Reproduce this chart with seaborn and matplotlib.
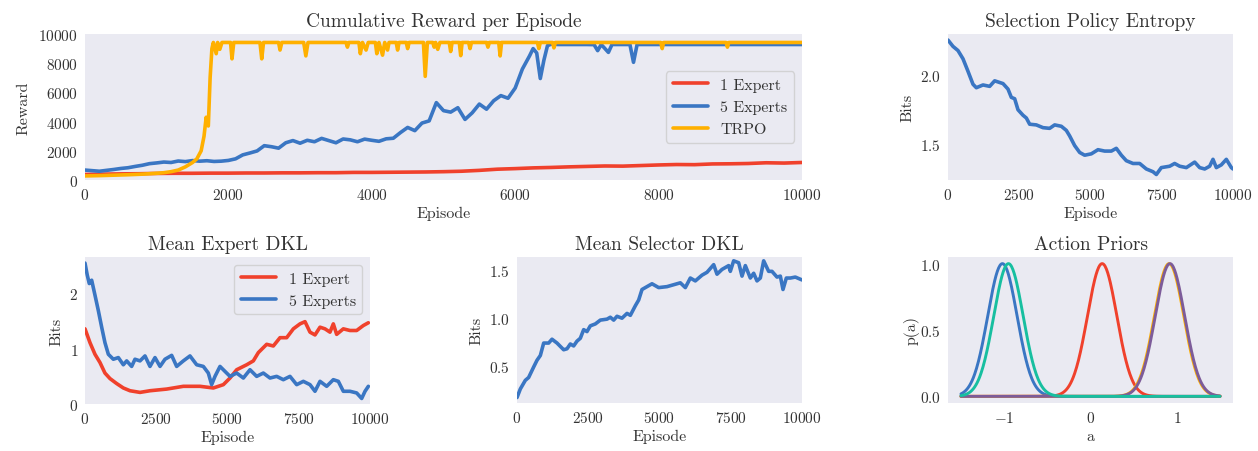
import numpy as np
import pandas as pd
import matplotlib
matplotlib.use("Agg")
import matplotlib.pyplot as plt
import seaborn as sns

# ---------------- data ----------------
# Cumulative reward per episode
rew_1exp_ep = [0, 250, 500, 750, 1000, 1250, 1500, 1750, 2000, 2250, 2500, 2750, 3000, 3250, 3500,
               3750, 4000, 4250, 4500, 4750, 5000, 5250, 5500, 5750, 6000, 6250, 6500, 6750, 7000,
               7250, 7500, 7750, 8000, 8250, 8500, 8750, 9000, 9250, 9500, 9750, 10000]
rew_1exp = [380, 400, 420, 430, 450, 460, 460, 470, 470, 480, 480, 490, 490, 500, 500,
            520, 520, 530, 540, 550, 570, 600, 660, 740, 780, 830, 860, 900, 930,
            960, 950, 990, 1030, 1060, 1050, 1100, 1110, 1130, 1180, 1160, 1200]

rew_5exp_ep = [0, 100, 200, 300, 400, 500, 600, 700, 800, 900, 1000, 1100, 1200, 1300, 1400, 1500,
               1600, 1700, 1800, 1900, 2000, 2100, 2200, 2300, 2400, 2500, 2600, 2700, 2800, 2900,
               3000, 3100, 3200, 3300, 3400, 3500, 3600, 3700, 3800, 3900, 4000, 4100, 4200, 4300,
               4400, 4500, 4600, 4700, 4800, 4900, 5000, 5100, 5200, 5300, 5400, 5500, 5600, 5700,
               5800, 5900, 6000, 6100, 6200, 6250, 6300, 6350, 6400, 6450, 6500, 6600, 7000, 7100,
               7150, 7200, 7300, 7350, 7600, 7650, 7700, 10000]
rew_5exp = [680, 640, 600, 660, 720, 790, 840, 930, 1010, 1120, 1170, 1230, 1200, 1300, 1260, 1330,
            1290, 1320, 1270, 1290, 1340, 1450, 1720, 1850, 1990, 2350, 2280, 2180, 2550, 2700,
            2520, 2720, 2620, 2850, 2700, 2550, 2810, 2750, 2620, 2800, 2720, 2650, 2820, 2860,
            3250, 3600, 3380, 3900, 4050, 5300, 4750, 4650, 4950, 4150, 4600, 5200, 4850, 5430,
            5780, 5600, 6300, 7600, 8500, 9000, 8700, 6950, 8200, 9200, 9300, 9280, 9280, 9270,
            8860, 9280, 8740, 9280, 9280, 8060, 9280, 9280]

rew_trpo_ep = [0, 200, 400, 600, 800, 1000, 1100, 1200, 1300, 1400, 1500, 1560, 1620, 1660, 1690,
               1705, 1720, 1745, 1770, 1790, 1830, 1850, 1880, 1910, 2030, 2050, 2075, 2440, 2465,
               2490, 2700, 2720, 2745, 3050, 3080, 3110, 3640, 3660, 3680, 3820, 3840, 3870, 3920,
               3950, 4050, 4070, 4100, 4150, 4180, 4220, 4240, 4340, 4360, 4380, 4480, 4500, 4520,
               4720, 4745, 4775, 4850, 4870, 4890, 4920, 4950, 5080, 5100, 5120, 5220, 5240, 5260,
               5350, 5370, 5390, 5600, 5620, 5640, 5770, 5790, 5810, 6310, 6330, 6350, 6520, 6540,
               6560, 8030, 8050, 8070, 8940, 8960, 8980, 10000]
rew_trpo = [280, 300, 330, 360, 400, 460, 500, 570, 680, 900, 1200, 1450, 2000, 3000, 4300,
            3900, 3700, 7000, 9000, 9420, 8650, 9420, 8950, 9420, 9420, 8300, 9420, 9420, 8300,
            9420, 9420, 8900, 9420, 9420, 8500, 9420, 9420, 9100, 9420, 9420, 8650, 9420, 8900,
            9420, 9420, 8650, 9420, 8550, 9420, 8900, 9420, 9420, 8900, 9420, 9420, 9000, 9420,
            9420, 7100, 9420, 9420, 9100, 9420, 8950, 9420, 9420, 8800, 9420, 9420, 8520, 9420,
            9420, 9000, 9420, 9420, 9100, 9420, 9420, 8500, 9420, 9420, 9000, 9420, 9420, 9050,
            9420, 9420, 9000, 9420, 9420, 9100, 9420, 9420]

# Selection policy entropy
ent_ep = [0, 175, 350, 526, 700, 877, 994, 1228, 1462, 1637, 1930, 2105, 2222, 2339, 2456, 2632,
          2749, 2865, 3099, 3333, 3567, 3743, 3977, 4152, 4269, 4444, 4620, 4795, 5029, 5263, 5497,
          5731, 5906, 6082, 6257, 6491, 6725, 6959, 7193, 7310, 7485, 7778, 7953, 8129, 8363, 8655,
          8830, 9006, 9181, 9298, 9415, 9591, 9766, 9942, 10000]
ent_bits = [2.256, 2.21, 2.18, 2.12, 2.03, 1.935, 1.91, 1.93, 1.92, 1.96, 1.94, 1.90, 1.84, 1.83,
            1.75, 1.71, 1.69, 1.645, 1.64, 1.62, 1.615, 1.64, 1.63, 1.60, 1.56, 1.49, 1.44, 1.42,
            1.43, 1.46, 1.45, 1.45, 1.47, 1.42, 1.38, 1.36, 1.36, 1.32, 1.30, 1.28, 1.33, 1.34,
            1.36, 1.34, 1.33, 1.37, 1.33, 1.32, 1.34, 1.39, 1.33, 1.35, 1.39, 1.33, 1.32]

# Mean expert DKL
edkl_1_ep = [0, 175, 350, 526, 700, 877, 1111, 1345, 1579, 1930, 2280, 2865, 3450, 4035, 4503, 4854,
             5088, 5322, 5673, 5906, 6082, 6374, 6608, 6842, 7076, 7310, 7544, 7719, 7895, 8070,
             8246, 8421, 8596, 8713, 8830, 9064, 9298, 9532, 9766, 9942]
edkl_1 = [1.36, 1.11, 0.90, 0.75, 0.56, 0.46, 0.37, 0.29, 0.24, 0.21, 0.24, 0.27, 0.32, 0.32, 0.29,
          0.35, 0.47, 0.62, 0.71, 0.78, 0.93, 1.08, 1.05, 1.20, 1.20, 1.36, 1.45, 1.49, 1.30, 1.25,
          1.39, 1.36, 1.30, 1.45, 1.26, 1.36, 1.33, 1.33, 1.42, 1.47]
edkl_5_ep = [0, 80, 150, 234, 350, 468, 585, 700, 819, 994, 1170, 1345, 1462, 1637, 1754, 1930,
             2105, 2280, 2456, 2632, 2807, 3041, 3216, 3450, 3684, 3918, 4152, 4327, 4444, 4561,
             4737, 4912, 5088, 5322, 5556, 5789, 6023, 6257, 6491, 6725, 6959, 7193, 7427, 7661,
             7895, 8070, 8246, 8480, 8713, 8889, 9064, 9298, 9532, 9708, 9825, 9942]
edkl_5 = [2.55, 2.33, 2.18, 2.24, 1.97, 1.69, 1.39, 1.11, 0.90, 0.81, 0.84, 0.71, 0.78, 0.68, 0.81,
          0.78, 0.87, 0.68, 0.84, 0.68, 0.81, 0.88, 0.68, 0.78, 0.87, 0.71, 0.68, 0.56, 0.35, 0.50,
          0.68, 0.59, 0.50, 0.56, 0.47, 0.62, 0.50, 0.56, 0.47, 0.50, 0.44, 0.50, 0.35, 0.41, 0.35,
          0.23, 0.41, 0.32, 0.44, 0.41, 0.23, 0.23, 0.20, 0.10, 0.23, 0.32]

# Mean selector DKL
sdkl_ep = [0, 117, 292, 409, 585, 702, 819, 936, 1111, 1228, 1404, 1637, 1754, 1871, 1988, 2105,
           2222, 2339, 2456, 2573, 2749, 2924, 3158, 3275, 3392, 3509, 3684, 3860, 3977, 4152, 4269,
           4386, 4561, 4737, 4971, 5263, 5497, 5731, 5906, 6082, 6257, 6491, 6667, 6901, 7018, 7193,
           7427, 7485, 7602, 7778, 7895, 8012, 8187, 8304, 8421, 8538, 8655, 8830, 8947, 9123, 9240,
           9333, 9450, 9591, 9766, 10000]
sdkl_bits = [0.17, 0.26, 0.35, 0.38, 0.49, 0.56, 0.61, 0.74, 0.74, 0.78, 0.74, 0.67, 0.68, 0.73,
             0.71, 0.76, 0.79, 0.88, 0.86, 0.92, 0.94, 0.98, 0.99, 1.01, 0.98, 1.02, 1.00, 1.05,
             1.03, 1.13, 1.19, 1.30, 1.33, 1.36, 1.32, 1.33, 1.35, 1.37, 1.32, 1.42, 1.39, 1.45,
             1.48, 1.56, 1.46, 1.51, 1.55, 1.49, 1.60, 1.58, 1.44, 1.55, 1.42, 1.47, 1.39, 1.42,
             1.60, 1.49, 1.49, 1.43, 1.44, 1.30, 1.42, 1.42, 1.43, 1.40]

# Action priors (Gaussian prior means / widths, peak-normalised)
prior_mu = [-1.02, 0.135, 0.91, 0.92, -0.95]
prior_sigma = [0.17, 0.17, 0.17, 0.17, 0.17]
prior_colors = ["#3a76c3", "#f0412c", "#ffb000", "#7d5c9a", "#17bfa0"]

C_RED = "#f0412c"
C_BLUE = "#3a76c3"
C_ORANGE = "#ffb000"

# ---------------- style ----------------
sns.set_theme(style="dark")
plt.rcParams.update({
    "font.family": "serif",
    "font.serif": ["cmr10", "DejaVu Serif"],
    "mathtext.fontset": "cm",
    "axes.formatter.use_mathtext": True,
    "axes.unicode_minus": True,
    "axes.facecolor": "#eaeaf2",
    "xtick.labelsize": 11,
    "ytick.labelsize": 11,
    "axes.labelsize": 11.5,
    "axes.titlesize": 14,
    "legend.fontsize": 11.5,
    "axes.labelcolor": "#333333",
    "text.color": "#333333",
    "xtick.color": "#333333",
    "ytick.color": "#333333",
})

W, H = 1258, 452
fig = plt.figure(figsize=(W / 100, H / 100), dpi=100)


def ax_px(x0, y0, x1, y1):
    return fig.add_axes([x0 / W, 1 - y1 / H, (x1 - x0) / W, (y1 - y0) / H])


ax_rew = ax_px(85, 35, 802, 181)
ax_ent = ax_px(948, 35, 1233, 181)
ax_edkl = ax_px(85, 258, 370, 405)
ax_sdkl = ax_px(517, 258, 802, 404)
ax_prior = ax_px(948, 258, 1233, 404)

LW = 2.6

# Reward
sns.lineplot(x=rew_1exp_ep, y=rew_1exp, ax=ax_rew, color=C_RED, lw=LW, label="1 Expert",
             estimator=None, sort=False)
sns.lineplot(x=rew_5exp_ep, y=rew_5exp, ax=ax_rew, color=C_BLUE, lw=LW, label="5 Experts",
             estimator=None, sort=False)
sns.lineplot(x=rew_trpo_ep, y=rew_trpo, ax=ax_rew, color=C_ORANGE, lw=LW, label="TRPO",
             estimator=None, sort=False)
ax_rew.set_xlim(0, 10000)
ax_rew.set_ylim(0, 10000)
ax_rew.set_xticks([0, 2000, 4000, 6000, 8000, 10000])
ax_rew.set_yticks([0, 2000, 4000, 6000, 8000, 10000])
ax_rew.set_title("Cumulative Reward per Episode")
ax_rew.set_xlabel("Episode", labelpad=3)
ax_rew.set_ylabel("Reward", labelpad=6)
ax_rew.legend(loc="center right", handlelength=2.2)

# Entropy
sns.lineplot(x=ent_ep, y=ent_bits, ax=ax_ent, color=C_BLUE, lw=LW, estimator=None, sort=False)
ax_ent.set_xlim(0, 10000)
ax_ent.set_ylim(1.24, 2.30)
ax_ent.set_xticks([0, 2500, 5000, 7500, 10000])
ax_ent.set_yticks([1.5, 2.0])
ax_ent.set_title("Selection Policy Entropy")
ax_ent.set_xlabel("Episode", labelpad=3)
ax_ent.set_ylabel("Bits")

# Expert DKL
sns.lineplot(x=edkl_1_ep, y=edkl_1, ax=ax_edkl, color=C_RED, lw=LW, label="1 Expert",
             estimator=None, sort=False)
sns.lineplot(x=edkl_5_ep, y=edkl_5, ax=ax_edkl, color=C_BLUE, lw=LW, label="5 Experts",
             estimator=None, sort=False)
ax_edkl.set_xlim(0, 10000)
ax_edkl.set_ylim(0, 2.66)
ax_edkl.set_xticks([0, 2500, 5000, 7500, 10000])
ax_edkl.set_yticks([0, 1, 2])
ax_edkl.set_title("Mean Expert DKL")
ax_edkl.set_xlabel("Episode", labelpad=3)
ax_edkl.set_ylabel("Bits")
ax_edkl.legend(loc="upper right", handlelength=2.2)

# Selector DKL
sns.lineplot(x=sdkl_ep, y=sdkl_bits, ax=ax_sdkl, color=C_BLUE, lw=LW, estimator=None, sort=False)
ax_sdkl.set_xlim(0, 10000)
ax_sdkl.set_ylim(0.113, 1.64)
ax_sdkl.set_xticks([0, 2500, 5000, 7500, 10000])
ax_sdkl.set_yticks([0.5, 1.0, 1.5])
ax_sdkl.set_title("Mean Selector DKL")
ax_sdkl.set_xlabel("Episode", labelpad=3)
ax_sdkl.set_ylabel("Bits")

# Action priors
a = np.linspace(-1.5, 1.5, 400)
for i, (mu, sg, col) in enumerate(zip(prior_mu, prior_sigma, prior_colors)):
    p = np.exp(-0.5 * ((a - mu) / sg) ** 2)
    ln = sns.lineplot(x=a, y=p, ax=ax_prior, color=col, lw=2.1, estimator=None, sort=False)
    ax_prior.lines[-1].set_zorder(2 + i)
ax_prior.set_xlim(-1.65, 1.65)
ax_prior.set_ylim(-0.05, 1.05)
ax_prior.set_xticks([-1, 0, 1])
ax_prior.set_yticks([0.0, 0.5, 1.0])
ax_prior.set_title("Action Priors")
ax_prior.set_xlabel("a", labelpad=3)
ax_prior.set_ylabel("p(a)", labelpad=0)

for ax in [ax_rew, ax_ent, ax_edkl, ax_sdkl, ax_prior]:
    ax.tick_params(length=0, pad=5)
    for s in ax.spines.values():
        s.set_visible(False)

fig.savefig("out.png", dpi=100, facecolor="white")
